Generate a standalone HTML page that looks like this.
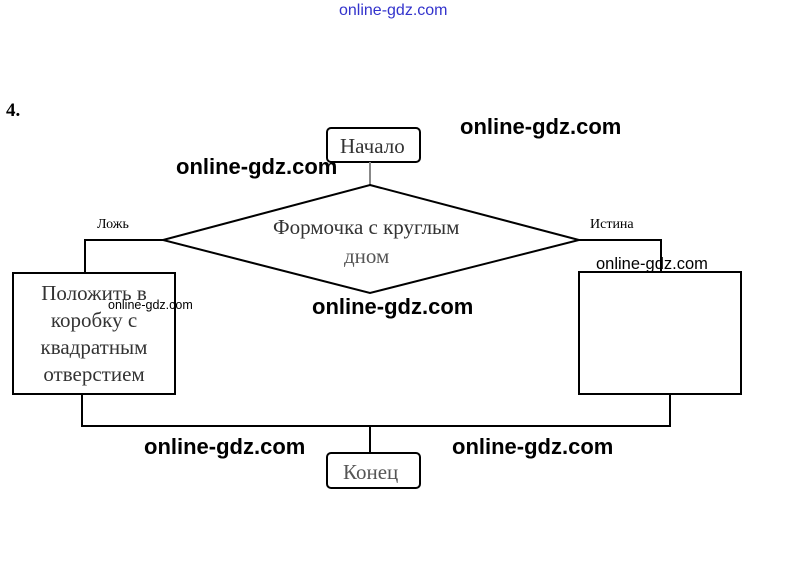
<!DOCTYPE html>
<html><head><meta charset="utf-8"><style>
body{margin:0;width:800px;height:584px;background:#fff;position:relative;overflow:hidden;font-family:"Liberation Serif",serif}
.t{position:absolute;white-space:nowrap}
.w{position:absolute;white-space:nowrap;font-family:"Liberation Sans","DejaVu Sans",sans-serif;font-size:22px;font-weight:bold;color:#000}
</style></head><body>
<svg width="800" height="584" style="position:absolute;left:0;top:0" fill="none" stroke="#000" stroke-width="2">
<rect x="327" y="128" width="93" height="34" rx="4"/>
<line x1="370" y1="162" x2="370" y2="185" stroke="#888"/>
<polygon points="370,185 579,240 370,293 163,240"/>
<polyline points="163,240 85,240 85,272"/>
<polyline points="579,240 661,240 661,272"/>
<rect x="13" y="273" width="162" height="121"/>
<rect x="579" y="272" width="162" height="122"/>
<polyline points="82,394 82,426 670,426 670,394"/>
<line x1="370" y1="426" x2="370" y2="452"/>
<rect x="327" y="453" width="93" height="35" rx="4"/>
</svg>
<div class="t" style="left:339px;top:2px;font-family:'Liberation Sans',sans-serif;font-size:16px;color:#33c">online-gdz.com</div>
<div class="t" style="left:6px;top:100px;font-size:19px;font-weight:bold">4.</div>
<div class="t" style="left:340px;top:134px;font-size:21px;color:#333">Начало</div>
<div class="t" style="left:97px;top:217px;font-size:14px">Ложь</div>
<div class="t" style="left:590px;top:217px;font-size:14px">Истина</div>
<div class="t" style="left:273px;top:215px;font-size:21px;color:#333">Формочка с круглым</div>
<div class="t" style="left:344px;top:244px;font-size:21px;color:#555">дном</div>
<div class="t" style="left:13px;top:280px;width:162px;text-align:center;font-size:21px;line-height:27px;color:#333">Положить в<br>коробку с<br>квадратным<br>отверстием</div>
<div class="t" style="left:343px;top:460px;font-size:21px;color:#555">Конец</div>
<div class="w" style="left:460px;top:114px">online-gdz.com</div>
<div class="w" style="left:176px;top:154px">online-gdz.com</div>
<div class="w" style="left:312px;top:294px">online-gdz.com</div>
<div class="w" style="left:144px;top:434px">online-gdz.com</div>
<div class="w" style="left:452px;top:434px">online-gdz.com</div>
<div class="w" style="left:108px;top:298px;font-size:12.5px;font-weight:normal">online-gdz.com</div>
<div class="w" style="left:596px;top:255px;font-size:16.5px;font-weight:normal">online-gdz.com</div>
</body></html>
